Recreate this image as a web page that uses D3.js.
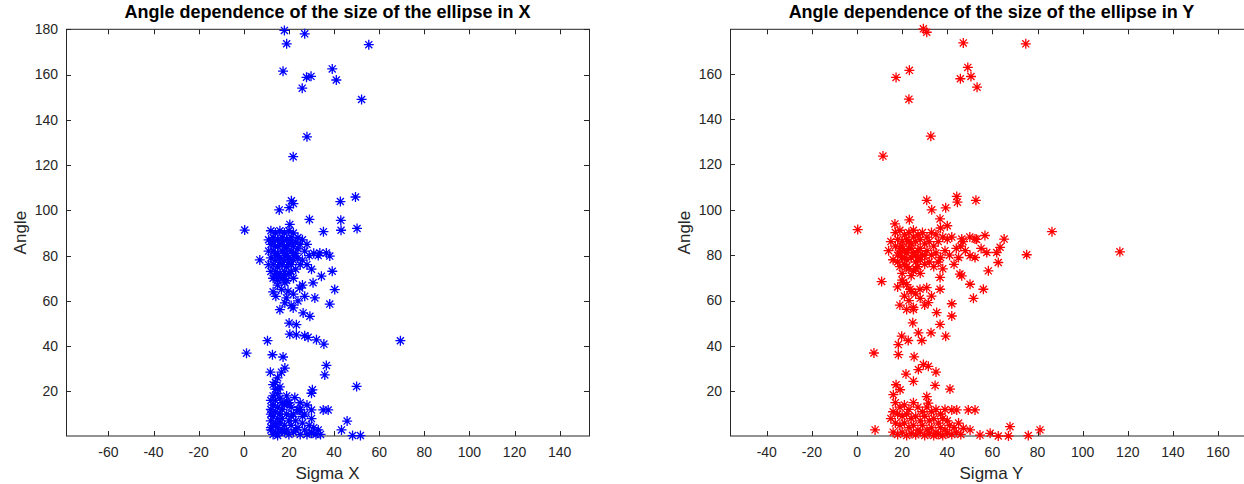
<!DOCTYPE html>
<html><head><meta charset="utf-8">
<script src="https://cdn.jsdelivr.net/npm/d3@7"></script>
<style>body{margin:0;background:#fff;overflow:hidden} svg{display:block}</style>
</head><body>
<svg id="c" width="1244" height="484"></svg>
<script>
// ---------- DATA ----------
const titleLeft = "Angle dependence of the size of the ellipse in X";
const titleRight = "Angle dependence of the size of the ellipse in Y";
const xLabelLeft = "Sigma X";
const xLabelRight = "Sigma Y";
const yLabel = "Angle";

const xTicksLeft = [-60,-40,-20,0,20,40,60,80,100,120,140];
const xTicksRight = [-40,-20,0,20,40,60,80,100,120,140,160];
const yTicksLeft = [20,40,60,80,100,120,140,160,180];
const yTicksRight = [20,40,60,80,100,120,140,160];

const xDomainLeft = [-78.8, 153];
const xDomainRight = [-56.3, 175.5];
const yDomainLeft = [0.3, 180];
const yDomainRight = [0.3, 179.6];

// [sigma X, angle]
const sigmaXPoints = [
 [18,179.5],[27,178],[19,173.6],[55.4,173.2],[17.4,161.5],[39.2,162.5],[27.8,158.8],[29.8,159.2],[41,157.6],[25.9,154],[52.2,149],[28,132.5],[21.9,123.7],
 [21.1,104.2],[20.1,101.2],[22,103],[15.7,100.2],[42.8,103.9],[49.5,105.9],[0.4,91.3],[43,95.6],[43.1,91.2],[50.2,92],[35.3,90.6],[29.1,96],[20.4,93.8],[7.1,78.1],
 [36.6,81.2],[38.1,79.8],[33.7,81.2],[39.2,73.1],[34.4,70.9],[40.3,65],[31.5,61.3],[38.1,58.6],[30.7,68],[24.8,65.7],
 [12,91],[14,90],[16,91],[18,90],[20,91],[22,90],[13,88],[15,87],[17,88],[19,87],[21,88],[24,88],[12,85],[14,84],[16,85],[18,84],[20,85],[22,84],[25,85],
 [13,82],[15,81],[17,82],[19,81],[21,82],[23,81],[12,79],[14,78],[16,79],[18,78],[20,79],[22,78],[24,79],[13,76],[15,75],[17,76],[19,75],[21,76],
 [14,73],[16,72],[18,73],[20,72],[23,74],[13,70],[15,69],[17,70],[19,69],[22,70],[26,87],[28,85],[27,82],[29,80],[31,81],[33,80],[26,78],[28,76],[30,74],
 [11,87],[11,82],[11,76],[13,86],[15,84],[17,86],[19,83],[21,86],[23,86],[14,80],[16,77],[18,80],[20,77],[22,80],[24,83],[25,76],[12,73],[15,71],[18,71],[21,73],
 [13.7,70.9],[18.2,68],[16.7,65],[19.6,64.3],[14.2,62],[18.9,61.3],[18.2,59.1],[22,63],[24,60],[26,67],[15,67],[13,64],[21,58],[27,62],
 [16,56.1],[21.9,56.9],[26.3,54.7],[29.3,53.2],[20.1,50.2],[23.3,49.5],[20.4,45.3],[23.3,45],[27,44.6],[28.5,43.9],[32.2,42.8],[35.5,40.9],[69.4,42.4],[10.5,42.4],
 [1.2,36.9],[12.7,36.2],[17.4,35.2],[18.2,30.3],[11.8,28.5],[16.7,28.5],[36.6,31.5],[35.9,27.3],[50,22.2],[30.4,20.7],[30,19.2],[22.6,17.3],[19.2,14.8],
 [24.5,11.8],[30,11.8],[35.2,11.8],[37.4,11.8],[45.8,6.9],[43.3,3],[48.2,0.5],[51.7,0.5],
 [15,26],[14,24],[16,22],[14,21],[15,19],[13,18],[16,17],[14,16],[13,14],[15,13],[17,12],[12,12],[14,11],[16,10],[13,9],[15,8],[12,7],[14,6],[16,6],
 [13,5],[15,4],[12,3],[14,2],[16,2],[13,1],[15,0.5],[17,3],[18,5],[12,10],[17,8],[18,14],[19,10],[20,7],
 [19,3],[21,5],[22,2],[24,4],[25,1],[26,6],[27,3],[28,1],[29,5],[30,2],[31,4],[32,1],[33,3],[20,1],[23,7],[26,9],[24,12],[27,10],[30,8],[22,10],
 [21,13],[20,15],[25,15],[28,14],[19,18],[30,1.5],[34,1],[19.6,14.8],[24.8,11.8],[13,23],[15,21],[12,16],[17,15],[12,4],[18,2],[21,9],[23,3]
];

// [sigma Y, angle]
const sigmaYPoints = [
 [29.4,179.8],[30.9,178.3],[47.1,173.6],[74.8,173.2],[23.2,161.5],[17.3,158.4],[49.1,162.8],[50.5,158.8],[45.8,157.8],[53.2,154.1],[23,148.8],[32.7,132.5],[11.5,123.7],
 [30.9,104.2],[44.2,105.9],[44.5,103.4],[52.7,104.2],[33.1,100],[39.3,100.9],[0.3,91.3],[86.4,90.4],[75.2,80.2],[116.5,81.5],[16.8,93.8],[23.2,95.6],[36.8,96],[10.9,68.4],
 [65.2,87.1],[63.4,83.5],[62.6,76.8],[58.2,73.1],[56,65],[51.6,61],[50.1,67.2],[46.4,70.9],[56.7,88.7],[52.3,87.2],[46.4,87.2],[57.5,81.2],[61.9,81.2],[52.3,79],[50.1,79.8],[45.6,71.7],
 [17,90],[19,91],[21,89],[23,90],[25,91],[27,89],[29,90],[31,88],[33,90],[35,89],[18,87],[20,86],[22,87],[24,85],[26,86],[28,87],[30,85],[32,86],[34,84],[36,86],[38,88],[40,87],[42,88],
 [17,84],[19,83],[21,82],[23,83],[25,81],[27,82],[29,80],[31,82],[33,80],[35,81],[37,79],[39,82],[41,80],[44,83],[46,84],[48,82],
 [18,80],[20,79],[22,78],[24,79],[26,77],[28,78],[30,76],[32,77],[34,75],[36,77],[38,74],[16,78],[19,75],[21,76],[23,74],[25,73],[27,75],[20,72],[24,71],[28,72],
 [14,82],[15,86],[43,76],[45,79],[47,86],[50,88],[53,87],[55,83],[40,93],[37,92],
 [20,84],[22,81],[24,83],[26,80],[28,83],[23,86],[25,88],[21,79],[27,79],[19,81],[30,80],[22,75],[26,74],[18,77],
 [42,58.6],[42,53.2],[35.3,54.7],[36.8,49.5],[31.6,59.1],[25,56.1],[22,56.1],[24.7,50.2],[27.2,45.8],[32.8,45.8],[39.3,44.3],[19.8,44.3],[22.7,42.4],[28.7,42.4],[18.3,40.6],
 [7.5,36.9],[18.3,36.2],[25.3,35.2],[36.8,70.2],[36.8,65],[30.9,65.7],[27.9,65],[23.5,65],[20.5,68],
 [20,69],[22,67],[18,66],[24,64],[21,62],[26,63],[23,60],[19,58],[28,61],[25,57],[30,58],[33,62],
 [31.6,31],[29.4,31.8],[35,28.5],[27.2,29.6],[21.7,27.6],[25,24.4],[41.2,21],[34.6,22.6],[17.3,22.9],[16.1,18.5],[19.1,20.7],[30.9,17.7],[31.6,14.8],
 [42,11.8],[44.2,11.8],[49.3,11.8],[52.3,11.8],[67.8,4.4],[81.1,3],[8,3],[75.9,0.5],[47.1,3.7],[50.1,3],[54.5,0.7],[59,1.5],[62.6,0.3],[67.1,0.3],
 [17,15],[19,13],[21,14],[23,12],[25,15],[27,13],[29,11],[31,13],[33,11],[35,12],[37,10],[39,12],[18,10],[20,9],[22,10],[24,8],[26,9],[28,7],[30,9],[32,7],[34,8],[36,6],[38,8],[40,7],
 [17,6],[19,5],[21,6],[23,4],[25,5],[27,3],[29,5],[31,3],[33,4],[35,2],[37,4],[39,3],[41,5],[43,4],[45,6],
 [16,2],[18,1],[20,2],[22,0.5],[24,1.5],[26,0.8],[28,2],[30,0.5],[32,1.5],[34,0.5],[36,1],[38,0.5],[40,1.5],[42,1],[44,2],[46,1],[15,8],[16,11]
];

// ---------- DRAW ----------
const svg = d3.select("#c");
const axisColor = "#262626";
const fontFam = "'Liberation Sans', Arial, Helvetica, sans-serif";

function asterisk(r) {
  const d = r * 0.7071;
  return `M${-r},0L${r},0M0,${-r}L0,${r}M${-d},${-d}L${d},${d}M${-d},${d}L${d},${-d}`;
}

function panel(cfg) {
  const x0 = cfg.left, x1 = cfg.left + 523, yTop = 29.3, yBot = 436;
  const x = d3.scaleLinear().domain(cfg.xDomain).range([x0, x1]);
  const y = d3.scaleLinear().domain(cfg.yDomain).range([yBot, yTop]);
  const g = svg.append("g");

  g.append("rect").attr("x", x0 + 0.5).attr("y", yTop).attr("width", x1 - x0).attr("height", yBot - yTop)
    .attr("fill", "none").attr("stroke", axisColor).attr("stroke-width", 1);

  const tl = 5;
  const xt = g.append("g");
  cfg.xTicks.forEach(t => {
    const px = Math.round(x(t)) + 0.5;
    xt.append("line").attr("x1", px).attr("x2", px).attr("y1", yBot).attr("y2", yBot - tl).attr("stroke", axisColor);
    xt.append("line").attr("x1", px).attr("x2", px).attr("y1", yTop).attr("y2", yTop + tl).attr("stroke", axisColor);
    xt.append("text").attr("x", x(t)).attr("y", yBot + 21).attr("text-anchor", "middle")
      .attr("font-family", fontFam).attr("font-size", 14).attr("fill", axisColor).text(t);
  });
  const yt = g.append("g");
  cfg.yTicks.forEach(t => {
    const py = Math.round(y(t)) + 0.5;
    yt.append("line").attr("x1", x0).attr("x2", x0 + tl).attr("y1", py).attr("y2", py).attr("stroke", axisColor);
    yt.append("line").attr("x1", x1).attr("x2", x1 - tl).attr("y1", py).attr("y2", py).attr("stroke", axisColor);
    yt.append("text").attr("x", x0 - 8).attr("y", y(t)).attr("dy", "0.35em").attr("text-anchor", "end")
      .attr("font-family", fontFam).attr("font-size", 14).attr("fill", axisColor).text(t);
  });

  g.append("g").selectAll("path").data(cfg.points).join("path")
    .attr("transform", d => `translate(${x(d[0])},${y(d[1])})`)
    .attr("d", asterisk(5)).attr("fill", "none").attr("stroke", cfg.color).attr("stroke-width", 1.3);

  g.append("text").attr("x", (x0 + x1) / 2).attr("y", 18).attr("text-anchor", "middle")
    .attr("font-family", fontFam).attr("font-size", 18).attr("font-weight", "bold").attr("fill", "#000").text(cfg.title);
  g.append("text").attr("x", (x0 + x1) / 2).attr("y", 479).attr("text-anchor", "middle")
    .attr("font-family", fontFam).attr("font-size", 17).attr("fill", axisColor).text(cfg.xLabel);
  g.append("text").attr("transform", `translate(${x0 - 40},${(yTop + yBot) / 2}) rotate(-90)`)
    .attr("text-anchor", "middle").attr("font-family", fontFam).attr("font-size", 17).attr("fill", axisColor).text(yLabel);
}

panel({left: 66, xDomain: xDomainLeft, yDomain: yDomainLeft, xTicks: xTicksLeft, yTicks: yTicksLeft,
       points: sigmaXPoints, color: "#0000ff", title: titleLeft, xLabel: xLabelLeft});
panel({left: 730, xDomain: xDomainRight, yDomain: yDomainRight, xTicks: xTicksRight, yTicks: yTicksRight,
       points: sigmaYPoints, color: "#ff0000", title: titleRight, xLabel: xLabelRight});
</script>
</body></html>
